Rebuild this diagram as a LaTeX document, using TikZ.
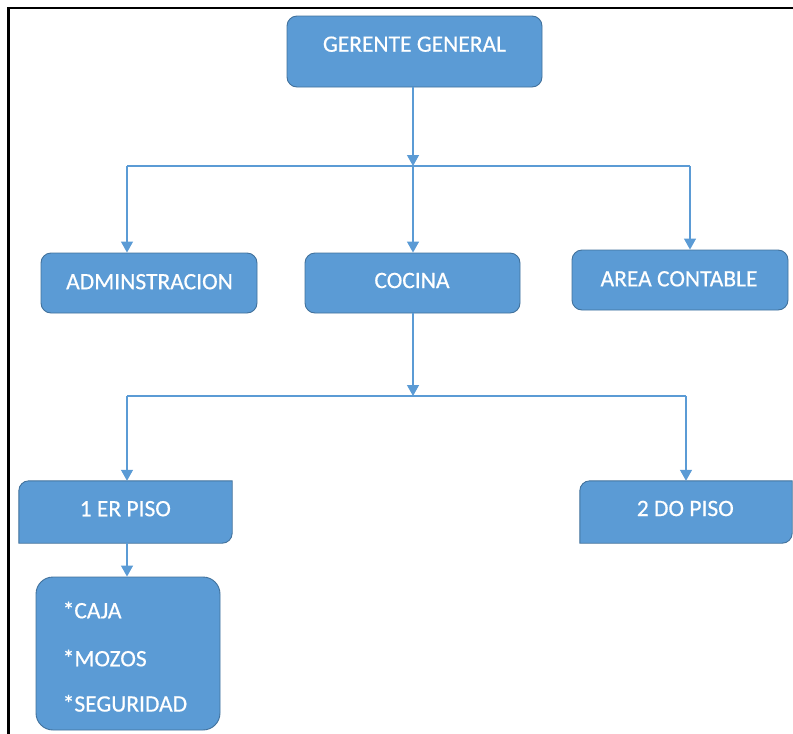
\documentclass[tikz,border=0pt]{standalone}
\usepackage{fontspec}
\setmainfont{Carlito}
\newfontfamily\boxfont[FakeBold=0.5]{Carlito}
\usetikzlibrary{arrows.meta}
\definecolor{boxblue}{HTML}{5B9BD5}
\definecolor{boxedge}{HTML}{41719C}
\definecolor{linkblue}{HTML}{5B9BD5}
\begin{document}
\begin{tikzpicture}[x=1pt,y=-1pt,
  boxfill/.style={draw=boxedge, fill=boxblue, line width=0.9pt},
  box/.style={boxfill, rounded corners=10pt, inner sep=0pt},
  plain/.style={draw=none, fill=none, inner sep=0pt},
  txt/.style={text=white, inner sep=0pt, font=\boxfont\fontsize{23.5}{28}\selectfont},
  conn/.style={draw=linkblue, line width=1.3pt},
  arr/.style={conn, -{Triangle[width=12pt,length=11pt]}}]
\useasboundingbox (0,0) rectangle (793,734);
% frame
\draw[line width=2.3pt, line cap=rect] (8.5,734) -- (8.5,8) -- (793,8);
% boxes
\node[box, minimum width=255pt, minimum height=71pt] (gg) at (414.5,51.5) {};
\node[box, minimum width=216pt, minimum height=60pt] (adm) at (149,283) {};
\node[box, minimum width=215pt, minimum height=60pt] (coc) at (412.5,283) {};
\node[box, minimum width=216pt, minimum height=60pt] (area) at (680,280) {};
\node[plain, minimum width=213pt, minimum height=62pt] (p1) at (125.5,512) {};
\node[plain, minimum width=212pt, minimum height=62pt] (p2) at (686,512) {};
\node[box, rounded corners=17pt, minimum width=184pt, minimum height=153pt] (lst) at (128,653.5) {};
\path[boxfill] (p1.south west) -- ([yshift=-10pt]p1.north west) arc[start angle=180,end angle=270,radius=10]
  -- (p1.north east) -- ([yshift=10pt]p1.south east) arc[start angle=0,end angle=90,radius=10] -- cycle;
\path[boxfill] (p2.south west) -- ([yshift=-10pt]p2.north west) arc[start angle=180,end angle=270,radius=10]
  -- (p2.north east) -- ([yshift=10pt]p2.south east) arc[start angle=0,end angle=90,radius=10] -- cycle;
% texts
\node[txt] (tgg) at (414.5,44.2) {GERENTE GENERAL};
\node[txt] (tadm) at (149.5,281.7) {ADMINSTRACION};
\node[txt] (tcoc) at (412,280.5) {COCINA};
\node[txt] (tarea) at (679,278.8) {AREA CONTABLE};
\node[txt] (tp1) at (125.3,508.7) {1 ER PISO};
\node[txt] (tp2) at (685.3,508.5) {2 DO PISO};
\node[txt, anchor=west] (t1) at (62.5,610) {*CAJA};
\node[txt, anchor=west] (t2) at (62.5,658) {*MOZOS};
\node[txt, anchor=west] (t3) at (62.5,703.3) {*SEGURIDAD};
% connectors
\coordinate (j0) at (413,166);
\coordinate (hL) at (127,166);
\coordinate (hR) at (690,166);
\coordinate (j1) at (413,396);
\coordinate (kL) at (127,396);
\coordinate (kR) at (686,396);
\draw[arr] (j0 |- gg.south) -- (j0);
\draw[conn] (hL) -- (hR);
\draw[arr] (hL) -- (hL |- adm.north);
\draw[arr] (j0) -- (j0 |- coc.north);
\draw[arr] (hR) -- (hR |- area.north);
\draw[arr] (j1 |- coc.south) -- (j1);
\draw[conn] (kL) -- (kR);
\draw[arr] (kL) -- (kL |- p1.north);
\draw[arr] (kR) -- (kR |- p2.north);
\draw[arr] (kL |- p1.south) -- (kL |- lst.north);
\end{tikzpicture}
\end{document}
